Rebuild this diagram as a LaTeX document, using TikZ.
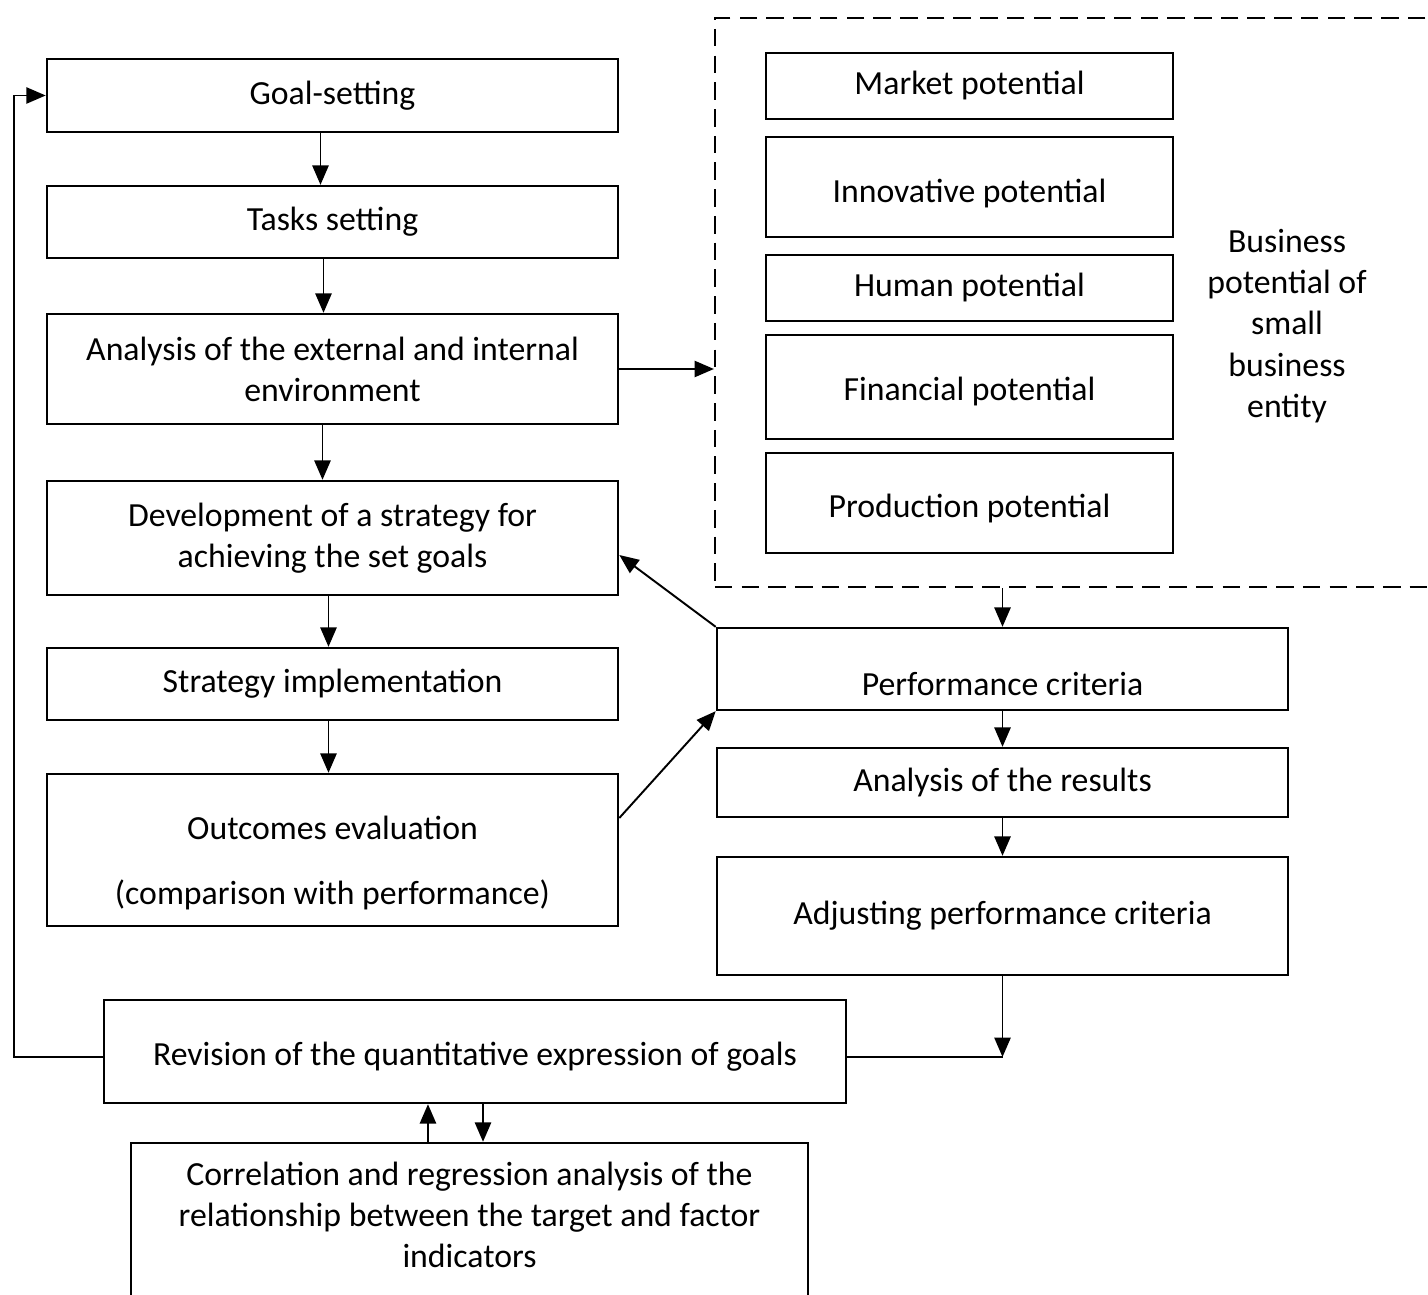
\documentclass[tikz,border=0pt]{standalone}
\usepackage{fontspec}
\setmainfont{Carlito}
\usetikzlibrary{arrows.meta}
\begin{document}
\begin{tikzpicture}[x=0.01cm,y=-0.01cm,
  box/.style={draw,line width=.65pt,align=center,inner sep=0pt,
    font=\fontsize{9.6}{11.7}\selectfont},
  lbox/.style={box,minimum width=5.71cm},
  pbox/.style={box,minimum width=4.07cm},
  txt/.style={align=center,inner sep=0pt,font=\fontsize{9.6}{11.7}\selectfont},
  arr/.style={line width=.55pt,-{Triangle[length=5.5pt,width=4.6pt]}}]
  \useasboundingbox (0,0) rectangle (1428,1295);
  \node[lbox,minimum height=.73cm] (goal) at (332.5,95.5) {Goal-setting};
  \node[lbox,minimum height=.72cm] (tasks) at (332.5,222) {Tasks setting};
  \node[lbox,minimum height=1.1cm] (anal) at (332.5,369) {Analysis of the external and internal\\environment};
  \node[lbox,minimum height=1.14cm] (dev) at (332.5,538) {Development of a strategy for\\achieving the set goals};
  \node[lbox,minimum height=.72cm] (impl) at (332.5,684) {Strategy implementation};
  \node[lbox,minimum height=1.52cm] (outc) at (332.5,850) {};
  \node[txt] (outctext) at (332.5,863) {Outcomes evaluation\\[6.8pt](comparison with performance)};
  \node[box,minimum width=7.42cm,minimum height=1.03cm] (rev) at (475,1051.5) {};
  \node[txt] (revtext) at (475,1057) {Revision of the quantitative expression of goals};
  \node[box,minimum width=6.77cm,minimum height=1.9cm] (corr) at (469.5,1238) {};
  \node[txt] (corrtext) at (469.5,1215) {Correlation and regression analysis of the\\relationship between the target and factor\\indicators};
  \node[draw,dashed,dash pattern=on 5pt off 2.6pt,line width=.5pt,minimum width=7.25cm,minimum height=5.69cm] (frame) at (1077.5,302.5) {};
  \node[pbox,minimum height=.66cm] (market) at (969.5,86) {Market potential};
  \node[pbox,minimum height=1cm] (innov) at (969.5,187) {};
  \node[txt] (innovtext) at (969.5,194) {Innovative potential};
  \node[pbox,minimum height=.66cm] (human) at (969.5,288) {Human potential};
  \node[pbox,minimum height=1.04cm] (fin) at (969.5,387) {};
  \node[txt] (fintext) at (969.5,392) {Financial potential};
  \node[pbox,minimum height=1cm] (prod) at (969.5,503) {};
  \node[txt] (prodtext) at (969.5,509) {Production potential};
  \node[txt] (biz) at (1287,326) {Business\\potential of\\small\\business\\entity};
  \node[lbox,minimum height=.82cm] (perf) at (1002.5,669) {};
  \node[txt] (perftext) at (1002.5,684) {Performance criteria};
  \node[lbox,minimum height=.69cm] (res) at (1002.5,782.5) {Analysis of the results};
  \node[lbox,minimum height=1.18cm] (adj) at (1002.5,916) {Adjusting performance criteria};
  \coordinate (meet) at (adj.south |- revtext);
  \coordinate (loop) at (14,1057);
  \draw[arr] ([xshift=-.12cm]goal.south) -- ([xshift=-.12cm]tasks.north);
  \draw[arr] ([xshift=-.09cm]tasks.south) -- ([xshift=-.09cm]anal.north);
  \draw[arr] ([xshift=-.1cm]anal.south) -- ([xshift=-.1cm]dev.north);
  \draw[arr] ([xshift=-.04cm]dev.south) -- ([xshift=-.04cm]impl.north);
  \draw[arr] ([xshift=-.04cm]impl.south) -- ([xshift=-.04cm]outc.north);
  \draw[arr] (anal.east) -- (anal.east -| frame.west);
  \draw[arr] (frame.south -| perf.north) -- (perf.north);
  \draw[arr] (perf) -- (res);
  \draw[arr] (res) -- (adj);
  \draw[arr] (perf.north west) -- ([yshift=-.17cm]dev.east);
  \draw[arr] ([yshift=.32cm]outc.east) -- (perf.south west);
  \draw[arr] (adj.south) -- (meet);
  \draw[line width=.55pt] (revtext -| rev.east) -- (meet);
  \draw[arr] (revtext -| rev.west) -- (loop) |- (goal.west);
  \draw[arr] ([xshift=-.415cm]corr.north) -- ([xshift=-.47cm]rev.south);
  \draw[arr] ([xshift=.08cm]rev.south) -- ([xshift=.135cm]corr.north);
\end{tikzpicture}
\end{document}
